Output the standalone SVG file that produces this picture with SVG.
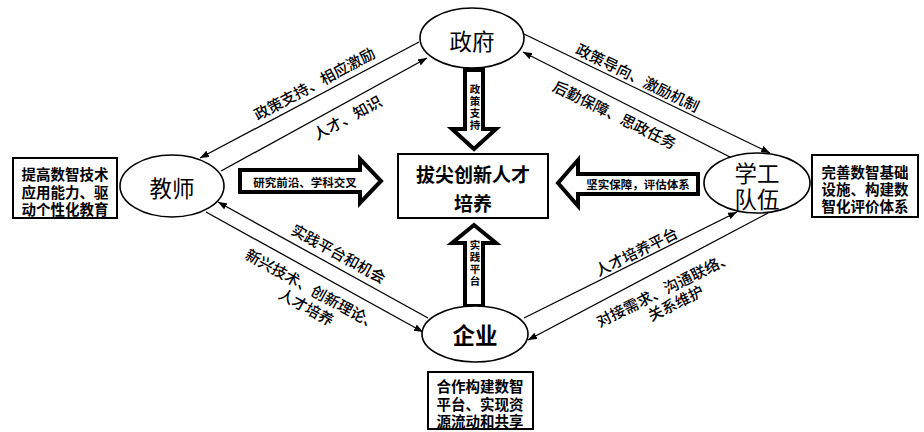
<svg xmlns="http://www.w3.org/2000/svg" width="924" height="432" viewBox="0 0 924 432">
<style>
text{font-family:"Noto Sans CJK SC","Noto Sans",sans-serif;fill:#000;}
.node{fill:#fff;stroke:#000;stroke-width:1.6;}
.box{fill:#fff;stroke:#000;stroke-width:2;}
.big{fill:#fff;stroke:#000;stroke-width:4;stroke-linejoin:miter;}
.nl{font-size:22.5px;text-anchor:middle;dominant-baseline:central;}
.bt{font-size:14.5px;font-weight:700;text-anchor:middle;dominant-baseline:central;}
.ct{font-size:19px;font-weight:700;text-anchor:middle;dominant-baseline:central;}
.at{font-size:11.5px;font-weight:700;text-anchor:middle;dominant-baseline:central;}
.vt{font-size:10.5px;font-weight:700;text-anchor:middle;writing-mode:vertical-rl;letter-spacing:1.5px;}
.el{font-size:15px;font-weight:500;text-anchor:middle;dominant-baseline:central;}
.ln{stroke:#000;stroke-width:1.3;fill:none;marker-end:url(#ah);}
</style>
<defs>
<marker id="ah" markerUnits="userSpaceOnUse" markerWidth="9" markerHeight="7" refX="9" refY="3.5" orient="auto">
<path d="M0,0 L9,3.5 L0,7 z" fill="#000"/>
</marker>
</defs>
<rect width="924" height="432" fill="#fff"/>

<g id="connectors">
<line class="ln" x1="419" y1="42" x2="200" y2="158"/>
<line class="ln" x1="221" y1="171" x2="427" y2="58"/>
<line class="ln" x1="524" y1="34" x2="770" y2="153"/>
<line class="ln" x1="730" y1="157" x2="523" y2="52"/>
<line class="ln" x1="428" y1="318" x2="218" y2="202"/>
<line class="ln" x1="206" y1="212" x2="423" y2="332"/>
<line class="ln" x1="524" y1="318" x2="737" y2="212"/>
<line class="ln" x1="768" y1="213" x2="528" y2="340"/>
<text class="el" transform="translate(314,83) rotate(-28.4)">政策支持、相应激励</text>
<text class="el" transform="translate(347,117) rotate(-28.4)">人才、知识</text>
<text class="el" transform="translate(638,77) rotate(26.1)">政策导向、激励机制</text>
<text class="el" transform="translate(615,114) rotate(26.1)">后勤保障、思政任务</text>
<text class="el" transform="translate(339,253) rotate(28.9)">实践平台和机会</text>
<text class="el" transform="translate(313,288) rotate(28.9)"><tspan x="0" y="0">新兴技术、创新理论、</tspan><tspan x="3.5" y="18.6">人才培养</tspan></text>
<text class="el" transform="translate(636,251) rotate(-26.3)">人才培养平台</text>
<text class="el" transform="translate(664,288) rotate(-26.3)"><tspan x="0" y="0">对接需求、沟通联络、</tspan><tspan x="3.7" y="17.4">关系维护</tspan></text>
</g>

<g id="arrow-top">
<polygon class="big" points="465,70 483,70 483,129 496,129 474,149 452,129 465,129"/>
<text class="vt" x="475" y="108">政策支持</text>
</g>
<g id="arrow-bottom">
<polygon class="big" points="465,306 483,306 483,243 496,243 474,225 452,243 465,243"/>
<text class="vt" x="475" y="264">实践平台</text>
</g>
<g id="arrow-left">
<polygon class="big" points="240,170 360,170 360,159 381,181 360,203 360,192 240,192"/>
<text class="at" x="305" y="182">研究前沿、学科交叉</text>
</g>
<g id="arrow-right">
<polygon class="big" points="698,174 578,174 578,160 558,183 578,206 578,194 698,194"/>
<text class="at" x="638" y="184">坚实保障，评估体系</text>
</g>

<g id="center">
<rect class="box" x="398" y="154" width="150" height="64"/>
<text class="ct"><tspan x="473" y="173">拔尖创新人才</tspan><tspan x="473" y="202">培养</tspan></text>
</g>

<g id="zhengfu">
<ellipse class="node" cx="472" cy="38" rx="52" ry="30"/>
<text class="nl" x="472" y="40">政府</text>
</g>
<g id="jiaoshi">
<ellipse class="node" cx="172" cy="186" rx="52" ry="31"/>
<text class="nl" x="172" y="187">教师</text>
</g>
<g id="xuegong">
<ellipse class="node" cx="757" cy="183" rx="53" ry="30"/>
<text class="nl"><tspan x="757" y="172">学工</tspan><tspan x="757" y="198">队伍</tspan></text>
</g>
<g id="qiye">
<ellipse class="node" cx="475" cy="334" rx="53" ry="28"/>
<text class="nl" x="475" y="334" font-weight="700">企业</text>
</g>

<g id="note-left">
<rect class="box" x="13" y="158" width="104" height="60"/>
<text class="bt"><tspan x="65" y="173">提高数智技术</tspan><tspan x="65" y="191">应用能力、驱</tspan><tspan x="65" y="208">动个性化教育</tspan></text>
</g>
<g id="note-right">
<rect class="box" x="812" y="155" width="106" height="62"/>
<text class="bt"><tspan x="865" y="171">完善数智基础</tspan><tspan x="865" y="188">设施、构建数</tspan><tspan x="865" y="205">智化评价体系</tspan></text>
</g>
<g id="note-bottom">
<rect class="box" x="428" y="372" width="105" height="57"/>
<text class="bt"><tspan x="480" y="385">合作构建数智</tspan><tspan x="480" y="403">平台、实现资</tspan><tspan x="480" y="420">源流动和共享</tspan></text>
</g>
</svg>
